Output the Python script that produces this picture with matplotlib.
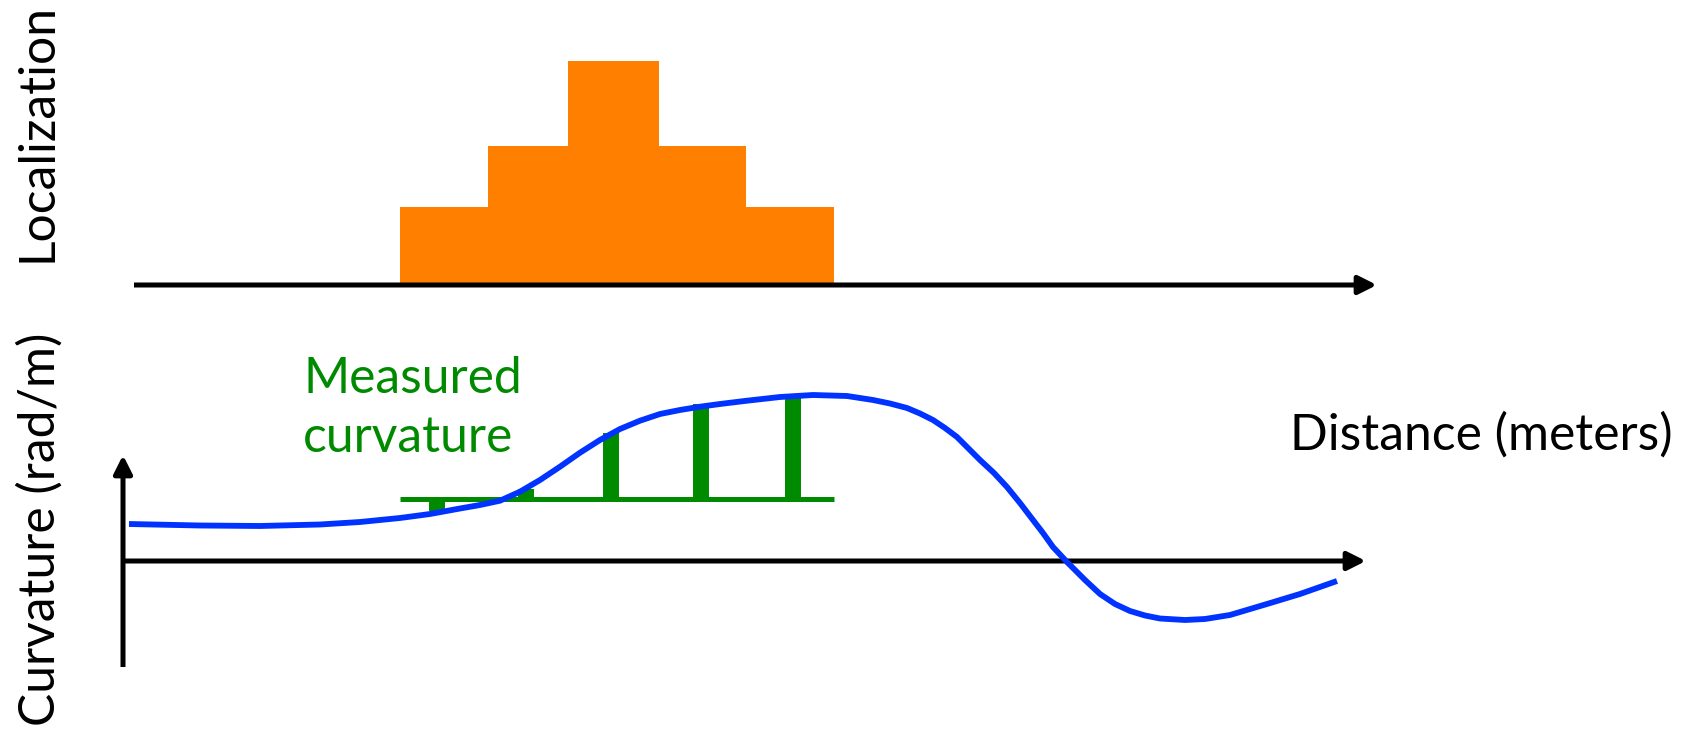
import numpy as np
import matplotlib.pyplot as plt

plt.rcParams['font.family'] = ['Lato', 'DejaVu Sans']

# Curvature profile along the road (distance units, rad/m)
distance = [0.06, 0.77, 1.37, 1.97, 2.37, 2.77, 3.07, 3.37, 3.57, 3.77, 3.97, 4.17,
            4.37, 4.57, 4.77, 4.97, 5.17, 5.37, 5.57, 5.77, 5.97, 6.24, 6.57, 6.90,
            7.24, 7.50, 7.67, 7.84, 7.97, 8.10, 8.22, 8.34, 8.45, 8.57, 8.71, 8.84,
            8.97, 9.10, 9.20, 9.30, 9.44, 9.62, 9.77, 9.92, 10.07, 10.22, 10.37,
            10.62, 10.82, 11.07, 11.44, 11.77, 12.14]
curvature = [0.37, 0.355, 0.35, 0.365, 0.39, 0.43, 0.47, 0.525, 0.56, 0.603, 0.693, 0.81,
             0.943, 1.083, 1.21, 1.32, 1.403, 1.47, 1.51, 1.543, 1.57, 1.603, 1.64, 1.66,
             1.65, 1.61, 1.575, 1.53, 1.475, 1.41, 1.33, 1.24, 1.13, 1.01, 0.88, 0.74,
             0.58, 0.41, 0.28, 0.14, -0.01, -0.19, -0.33, -0.43, -0.50, -0.545, -0.575,
             -0.59, -0.58, -0.54, -0.43, -0.33, -0.20]

# Measured curvature samples
meas_dist = [3.14, 4.03, 4.88, 5.78, 6.70]
meas_curv = [0.50, 0.72, 1.28, 1.57, 1.65]
meas_base = 0.62

# Localization histogram
loc_edges = [2.77, 3.65, 4.45, 5.36, 6.23, 7.11]
loc_heights = [0.78, 1.39, 2.24, 1.39, 0.78]

W, H = 1685, 729
fig = plt.figure(figsize=(W / 100, H / 100), dpi=100)

# both panels share the whole canvas, different vertical origins
ax_c = fig.add_axes([0, 0, 1, 1])
ax_c.set_xlim(-1.23, 15.62)
ax_c.set_ylim(-1.68, 5.61)
ax_c.axis('off')

ax_l = fig.add_axes([0, 0, 1, 1])
ax_l.set_xlim(-1.23, 15.62)
ax_l.set_ylim(-4.44, 2.85)
ax_l.axis('off')
ax_l.patch.set_alpha(0)

orange = '#ff7f00'
green = '#008a00'
blue = '#0033ff'


def arrow(ax, x0, y0, x1, y1):
    ax.annotate('', xy=(x1, y1), xytext=(x0, y0),
                arrowprops=dict(arrowstyle='-|>,head_length=1.0,head_width=0.5',
                                mutation_scale=11, lw=3.6, color='black',
                                shrinkA=0, shrinkB=0, capstyle='butt'))


# top panel: localization bars
lefts = np.array(loc_edges[:-1])
widths = np.diff(loc_edges)
ax_l.bar(lefts, loc_heights, width=widths, align='edge', color=orange,
         linewidth=0, zorder=1)
arrow(ax_l, 0.11, 0, 12.54, 0)

# bottom panel: axes
arrow(ax_c, 0, 0, 12.43, 0)
arrow(ax_c, 0, -1.06, 0, 1.06)

# curvature curve
ax_c.plot(distance, curvature, color=blue, lw=4.2, solid_capstyle='butt',
          solid_joinstyle='round', zorder=3)

# measured stems
ax_c.plot([loc_edges[0], loc_edges[-1]], [meas_base, meas_base], color=green,
          lw=3.6, solid_capstyle='butt', zorder=2)
ax_c.vlines(meas_dist, meas_base, meas_curv, color=green, lw=11.5,
            capstyle='butt', zorder=2)


def fx(px):
    return px / W


def fy(py):
    return 1 - py / H


fs = 35.8
fig.text(fx(303), fy(393), 'Measured', color=green, fontsize=fs, ha='left', va='baseline')
fig.text(fx(303), fy(452), 'curvature', color=green, fontsize=fs, ha='left', va='baseline')
fig.text(fx(1290), fy(450), 'Distance (meters)', color='black', fontsize=fs,
         ha='left', va='baseline')
fig.text(fx(38), fy(132), 'Localization', color='black', fontsize=fs,
         rotation=90, ha='center', va='center')
fig.text(fx(40), fy(529), 'Curvature (rad/m)', color='black', fontsize=fs,
         rotation=90, ha='center', va='center')

fig.savefig('out.png', dpi=100, facecolor='white')
